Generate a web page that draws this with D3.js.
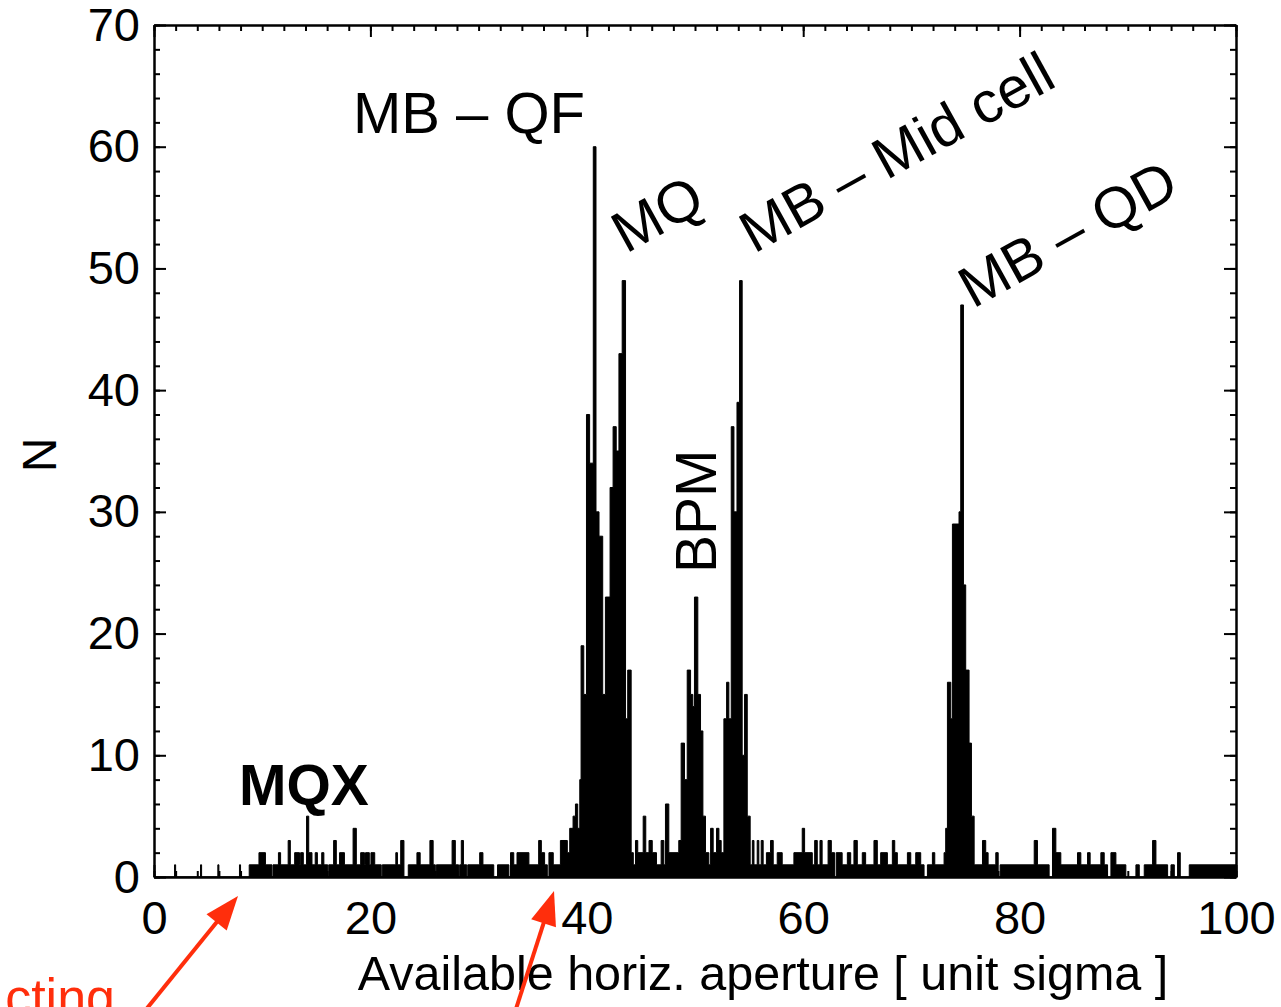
<!DOCTYPE html>
<html><head><meta charset="utf-8">
<script src="https://cdn.jsdelivr.net/npm/d3@7"></script>
<style>body{margin:0;background:#fff} svg{display:block}</style>
</head><body>
<svg id="c" width="1281" height="1007"></svg>
<script>
// Histogram: left edge of each run (unit sigma) and the count N in that run
const binStart = [0,1.9,2.0,4.3,4.4,5.9,6.0,7.9,8.0,8.8,9.7,10.3,10.9,11.0,11.5,11.7,12.4,12.6,13.0,13.45,13.55,13.8,14.1,14.3,14.6,14.9,15.1,15.5,15.7,16.05,16.15,16.6,16.85,17.15,17.6,18.4,18.7,19.1,19.45,19.55,19.9,20.05,20.4,21.0,21.1,22.35,22.5,22.8,23.1,23.5,24.3,24.6,25.5,25.8,26.0,26.1,27.55,27.85,28.15,28.25,28.4,28.6,28.9,29.0,30.1,30.4,31.4,31.75,32.8,32.95,33.25,33.55,34.65,35.55,35.8,36.1,36.35,36.5,36.9,37.56,38.2,38.42,38.73,38.95,39.16,39.35,39.47,39.72,39.97,40.26,40.6,40.85,41.13,41.47,41.72,42.15,42.43,42.72,42.97,43.27,43.58,43.78,44.1,44.3,44.5,44.71,45.21,45.45,45.75,46.05,46.44,46.87,47.12,47.27,47.58,48.5,48.72,49.03,49.28,49.59,49.8,49.95,50.26,50.51,50.73,50.97,51.28,51.44,51.68,51.99,52.21,52.42,52.67,52.92,53.13,53.35,53.6,53.88,54.12,54.36,54.58,54.83,55.1,55.3,55.45,55.75,55.9,56.12,56.3,56.6,56.98,57.23,57.6,58.06,59.14,59.91,60.13,60.84,61.06,61.3,61.55,61.75,62.3,62.6,62.9,63.05,63.6,64.08,64.39,64.69,65.0,65.46,65.77,66.54,66.85,67.16,67.78,68.24,68.46,68.7,69.63,69.94,70.4,70.86,71.17,71.48,71.94,72.16,73.02,73.17,73.33,73.64,73.79,74.4,74.56,74.81,75.02,75.33,75.55,75.8,76.57,76.87,77.09,77.8,78.02,78.2,81.35,81.65,82.73,83.04,83.35,83.81,85.35,85.66,86.28,86.52,87.51,87.82,88.13,88.44,88.9,89.82,90.75,91.06,91.52,92.29,92.6,93.68,93.99,94.3,94.6,94.85,95.68];
const binCount = [0,1,0,1,0,1,0,1,0,1,2,1,0,1,2,1,3,1,2,1,2,1,5,2,1,2,1,2,1,0,1,3,1,2,1,4,1,2,1,2,1,2,1,0,1,2,1,3,0,1,2,1,3,1,0,1,3,1,0,1,3,1,0,1,2,1,0,1,0,2,1,2,1,3,2,1,0,2,1,3,2,4,5,6,4,8,19,15,38,34,60,30,28,15,23,32,37,35,43,49,13,17,2,1,3,2,5,2,3,2,1,3,1,6,2,3,11,8,17,15,14,23,15,12,5,2,1,4,2,4,3,2,13,16,13,37,30,39,49,10,15,5,1,3,1,3,1,3,1,2,3,1,2,1,2,4,2,1,3,1,3,1,3,2,0,2,1,2,1,3,1,2,1,3,1,2,1,3,2,1,2,1,2,1,0,1,2,1,2,4,16,13,29,30,47,24,17,11,5,1,3,2,1,2,0,1,3,1,0,4,2,1,2,1,2,1,2,1,0,2,1,0,1,0,1,3,1,0,1,0,2,0,1];
const binEnd = 100;

const xTicks = [0, 20, 40, 60, 80, 100];
const yTicks = [0, 10, 20, 30, 40, 50, 60, 70];
const xMinorStep = 2, yMinorStep = 2;

const xTitle = "Available horiz. aperture [ unit sigma ]";
const yTitle = "N";

const FONT = "'Liberation Sans', Arial, Helvetica, sans-serif";
const RED = "#ff2e0c";

const svg = d3.select("#c");
const L = 154, R = 1236, T = 25, B = 877;
const x = d3.scaleLinear().domain([0, 100]).range([L, R]);
const y = d3.scaleLinear().domain([0, 70]).range([B, T]);

// histogram as filled step area
const pts = binStart.map((s, i) => ({x: s, n: binCount[i]}));
pts.push({x: binEnd, n: binCount[binCount.length - 1]});

svg.append("clipPath").attr("id", "pc").append("rect")
  .attr("x", L).attr("y", T).attr("width", R - L).attr("height", B - T);

const area = d3.area().curve(d3.curveStepAfter)
  .x(d => x(d.x)).y0(y(0)).y1(d => y(d.n));
svg.append("path").datum(pts).attr("clip-path", "url(#pc)")
  .attr("d", area).attr("fill", "#000").attr("stroke", "#000")
  .attr("stroke-width", 1).attr("stroke-linejoin", "miter");

// axes (box with inward ticks)
const xMinor = d3.range(0, 100 + 1e-9, xMinorStep);
const yMinor = d3.range(0, 70 + 1e-9, yMinorStep);
function styleAxis(g) {
  g.selectAll("path.domain").attr("stroke", "#000").attr("stroke-width", 2);
  g.selectAll(".tick line").attr("stroke", "#000").attr("stroke-width", 2);
  g.selectAll("text").attr("font-family", FONT).attr("font-size", 47).attr("fill", "#000");
}
const gB = svg.append("g").attr("transform", `translate(0,${B})`);
gB.append("g").call(d3.axisBottom(x).tickValues(xMinor).tickFormat("").tickSizeInner(-6).tickSizeOuter(0)).call(styleAxis);
gB.append("g").call(d3.axisBottom(x).tickValues(xTicks).tickFormat(d3.format("d")).tickSizeInner(-12).tickSizeOuter(0).tickPadding(24)).call(styleAxis);

const gT = svg.append("g").attr("transform", `translate(0,${T})`);
gT.append("g").call(d3.axisTop(x).tickValues(xMinor).tickFormat("").tickSizeInner(-6).tickSizeOuter(0)).call(styleAxis);
gT.append("g").call(d3.axisTop(x).tickValues(xTicks).tickFormat("").tickSizeInner(-12).tickSizeOuter(0)).call(styleAxis);

const gL = svg.append("g").attr("transform", `translate(${L},0)`);
gL.append("g").call(d3.axisLeft(y).tickValues(yMinor).tickFormat("").tickSizeInner(-6).tickSizeOuter(0)).call(styleAxis);
gL.append("g").call(d3.axisLeft(y).tickValues(yTicks).tickFormat(d3.format("d")).tickSizeInner(-12).tickSizeOuter(0).tickPadding(14)).call(styleAxis);

const gR = svg.append("g").attr("transform", `translate(${R},0)`);
gR.append("g").call(d3.axisRight(y).tickValues(yMinor).tickFormat("").tickSizeInner(-6).tickSizeOuter(0)).call(styleAxis);
gR.append("g").call(d3.axisRight(y).tickValues(yTicks).tickFormat("").tickSizeInner(-12).tickSizeOuter(0)).call(styleAxis);

// titles
svg.append("text").attr("x", 763).attr("y", 990).attr("text-anchor", "middle")
  .attr("font-family", FONT).attr("font-size", 48.5).text(xTitle);
svg.append("text").attr("transform", "translate(56,455) rotate(-90)").attr("text-anchor", "middle")
  .attr("font-family", FONT).attr("font-size", 48).text(yTitle);

// peak annotations
const notes = [
  {t: "MB \u2013 QF", px: 353, py: 133, rot: 0, bold: false, size: 58},
  {t: "MQ", px: 626, py: 254, rot: -29, bold: false, size: 58},
  {t: "MB \u2013 Mid cell", px: 754, py: 254, rot: -29, bold: false, size: 58},
  {t: "MB \u2013 QD", px: 973, py: 309, rot: -29, bold: false, size: 58},
  {t: "BPM", px: 716, py: 573, rot: -90, bold: false, size: 57},
  {t: "MQX", px: 239, py: 805, rot: 0, bold: true, size: 57}
];
svg.selectAll("text.note").data(notes).join("text").attr("class", "note")
  .attr("transform", d => `translate(${d.px},${d.py}) rotate(${d.rot})`)
  .attr("font-family", FONT).attr("font-size", d => d.size)
  .attr("font-weight", d => d.bold ? "bold" : "normal").text(d => d.t);

// red callouts
svg.append("text").attr("x", 115).attr("y", 1015).attr("text-anchor", "end")
  .attr("font-family", FONT).attr("font-size", 52).attr("fill", RED).text("cting");
const arrows = [
  {x1: 144, y1: 1012, x2: 238, y2: 896},
  {x1: 515, y1: 1012, x2: 554, y2: 891}
];
arrows.forEach(a => {
  const dx = a.x2 - a.x1, dy = a.y2 - a.y1, len = Math.hypot(dx, dy);
  const ux = dx / len, uy = dy / len, hl = 34, hw = 13;
  const bx = a.x2 - ux * hl, by = a.y2 - uy * hl;
  svg.append("line").attr("x1", a.x1).attr("y1", a.y1).attr("x2", bx + ux * 2).attr("y2", by + uy * 2)
    .attr("stroke", RED).attr("stroke-width", 4);
  svg.append("path").attr("d", `M${a.x2},${a.y2}L${bx - uy * hw},${by + ux * hw}L${bx + uy * hw},${by - ux * hw}Z`)
    .attr("fill", RED);
});
</script>
</body></html>
